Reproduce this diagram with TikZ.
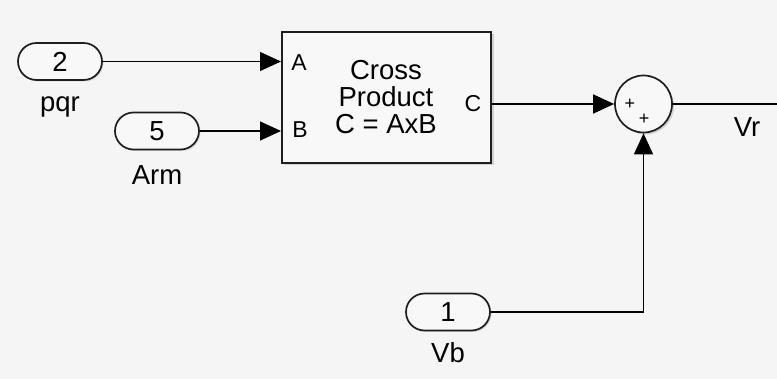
\documentclass[tikz,border=0pt]{standalone}
\usepackage{fontspec}
\setmainfont{Liberation Sans}
\usetikzlibrary{arrows.meta,shapes.misc,shadows}

\definecolor{canvas}{RGB}{245,245,245}
\definecolor{blockfill}{RGB}{248,248,248}
\definecolor{edge}{RGB}{30,30,30}

\tikzset{
  big/.style={font=\fontsize{27.5}{27}\selectfont},
  small/.style={font=\fontsize{23}{24}\selectfont},
  inport/.style={rounded rectangle, draw=edge, line width=1.7pt, fill=blockfill,
    minimum width=84pt, minimum height=37pt, inner sep=0pt, big,
    drop shadow={shadow xshift=1.5pt, shadow yshift=-1.5pt, opacity=0.25}},
  block/.style={draw=edge, line width=2pt, fill=blockfill,
    minimum width=209pt, minimum height=131pt, inner sep=0pt,
    drop shadow={shadow xshift=2.5pt, shadow yshift=-2.5pt, opacity=0.3}},
  sum/.style={circle, draw=edge, line width=1.7pt, fill=blockfill,
    minimum size=57pt, inner sep=0pt,
    drop shadow={shadow xshift=2pt, shadow yshift=-2pt, opacity=0.3}},
  sign/.style={font=\fontsize{18}{18}\selectfont, inner sep=0pt},
  wire/.style={line width=1.4pt},
  sig/.style={wire, -{Triangle[length=21pt,width=19pt]}},
}

\begin{document}
\begin{tikzpicture}[x=1pt,y=-1pt]
\fill[canvas] (0,0) rectangle (777,379);
\useasboundingbox (0,0) rectangle (777,379);

% inports
\node[inport] (pqr) at (60,61.5) {2};
\node[big] (pqrlbl) at (60,107) {pqr};
\node[inport] (arm) at (157,131) {5};
\node[big] (armlbl) at (157,175) {Arm};
\node[inport] (vb) at (448,312) {1};
\node[big] (vblbl) at (448,353) {Vb};

% cross product block
\node[block] (cross) at (386.5,97.5) {};
\node[big, align=center] (crosstxt) at (386,97) {Cross\\Product\\C = AxB};
\node[small] (pa) at (299,63) {A};
\node[small] (pb) at (300,130) {B};
\node[small] (pc) at (473,104) {C};

% sum
\node[sum] (add) at (643.5,104) {};
\node[sign] (p1) at (630,104) {+};
\node[sign] (p2) at (644,119) {+};
\coordinate (out) at (777,104);
\node[big] (vrlbl) at (747,127) {Vr};

% signals
\draw[sig] (pqr.east) -- (cross.west |- pqr.east);
\draw[sig] (arm.east) -- (cross.west |- arm.east);
\draw[sig] (cross.east |- add.west) -- (add.west);
\draw[sig] (vb.east) -| (add.south);
\draw[wire] (add.east) -- (out);
\end{tikzpicture}
\end{document}
